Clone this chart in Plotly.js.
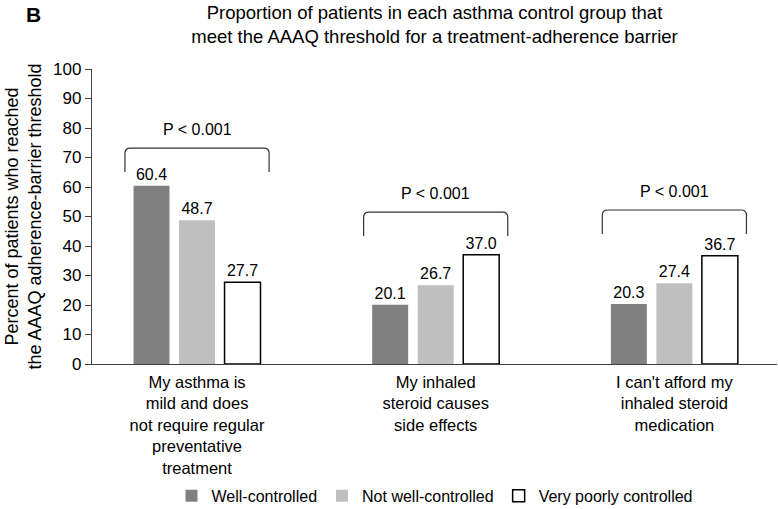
<!DOCTYPE html>
<html>
<head>
<meta charset="utf-8">
<script src="https://cdn.plot.ly/plotly-3.0.1.min.js"></script>
<style>
  body { margin: 0; background: #fff; }
  #chart { width: 778px; height: 509px; }
</style>
</head>
<body>
<div id="chart"></div>
<script>
// categories (barriers) and values for each asthma control group
var barriers = [
  "My asthma is<br>mild and does<br>not require regular<br>preventative<br>treatment",
  "My inhaled<br>steroid causes<br>side effects",
  "I can't afford my<br>inhaled steroid<br>medication"
];
var wellControlled = [60.4, 20.1, 20.3];
var notWellControlled = [48.7, 26.7, 27.4];
var veryPoorlyControlled = [27.7, 37.0, 36.7];
var pValues = ["P < 0.001", "P < 0.001", "P < 0.001"];

var font = "Liberation Sans, Arial, sans-serif";
var xs = barriers.map((b, i) => i);

function barTrace(name, values, color, line) {
  return {
    type: "bar",
    name: name,
    x: xs,
    y: values,
    text: values.map(v => v.toFixed(1)),
    textposition: "outside",
    textfont: { family: font, size: 16, color: "#000" },
    cliponaxis: false,
    marker: { color: color, line: line },
    hoverinfo: "y"
  };
}

var data = [
  barTrace("Well-controlled", wellControlled, "#808080", { width: 0 }),
  barTrace("Not well-controlled", notWellControlled, "#bfbfbf", { width: 0 }),
  barTrace("Very poorly controlled", veryPoorlyControlled, "#ffffff", { width: 1.5, color: "#000" })
];

// brackets above each group
var bracketTops = [73.2, 51.5, 52.2];
var halfW = 0.302, drop = 8.1, rx = 0.022, ry = 1.8;
var shapes = [];
var annotations = [];
xs.forEach(function (x, i) {
  var top = bracketTops[i];
  var x0 = x - halfW, x1 = x + halfW;
  shapes.push({
    type: "path", xref: "x", yref: "y",
    path: "M" + x0 + "," + (top - drop) +
          " L" + x0 + "," + (top - ry) +
          " Q" + x0 + "," + top + " " + (x0 + rx) + "," + top +
          " L" + (x1 - rx) + "," + top +
          " Q" + x1 + "," + top + " " + x1 + "," + (top - ry) +
          " L" + x1 + "," + (top - drop),
    line: { color: "#333", width: 1.2 }
  });
  annotations.push({
    x: x, y: top, xref: "x", yref: "y",
    text: pValues[i], showarrow: false,
    yanchor: "middle", yshift: 19,
    font: { family: font, size: 16, color: "#000" }
  });
});

annotations.push({
  text: "<b>B</b>", xref: "paper", yref: "paper",
  x: -0.1, y: 1.185, xanchor: "left", yanchor: "middle",
  showarrow: false, font: { family: font, size: 21, color: "#000" }
});

var layout = {
  width: 778,
  height: 509,
  margin: { l: 92, r: 1, t: 69, b: 145, autoexpand: false },
  paper_bgcolor: "#fff",
  plot_bgcolor: "#fff",
  font: { family: font, size: 16, color: "#000" },
  title: {
    text: "Proportion of patients in each asthma control group that<br>meet the AAAQ threshold for a treatment-adherence barrier",
    font: { family: font, size: 18.5, color: "#000" },
    x: 0.5, xref: "paper", xanchor: "center",
    y: 0.962, yref: "container", yanchor: "top"
  },
  barmode: "group",
  bargap: 0.428,
  bargroupgap: 0.21,
  showlegend: true,
  legend: {
    orientation: "h",
    x: 0.5, xanchor: "center",
    y: -0.447, yanchor: "middle",
    font: { family: font, size: 16, color: "#000" },
    itemwidth: 30,
    traceorder: "normal"
  },
  xaxis: {
    range: [-0.44, 2.43],
    tickvals: xs,
    ticktext: barriers,
    showline: true,
    linecolor: "#404040",
    linewidth: 1.2,
    ticks: "",
    ticklabelstandoff: 3,
    showgrid: false,
    zeroline: false,
    tickfont: { family: font, size: 16.5, color: "#000" }
  },
  yaxis: {
    range: [0, 100],
    dtick: 10,
    showline: true,
    linecolor: "#404040",
    linewidth: 1.2,
    ticks: "outside",
    ticklen: 6,
    tickcolor: "#404040",
    showgrid: false,
    zeroline: false,
    tickfont: { family: font, size: 17, color: "#000" },
    title: {
      text: "Percent of patients who reached<br>the AAAQ adherence-barrier threshold",
      font: { family: font, size: 18, color: "#000" },
      standoff: 6
    }
  },
  shapes: shapes,
  annotations: annotations
};

Plotly.newPlot("chart", data, layout, { displayModeBar: false, staticPlot: true });
</script>
</body>
</html>
